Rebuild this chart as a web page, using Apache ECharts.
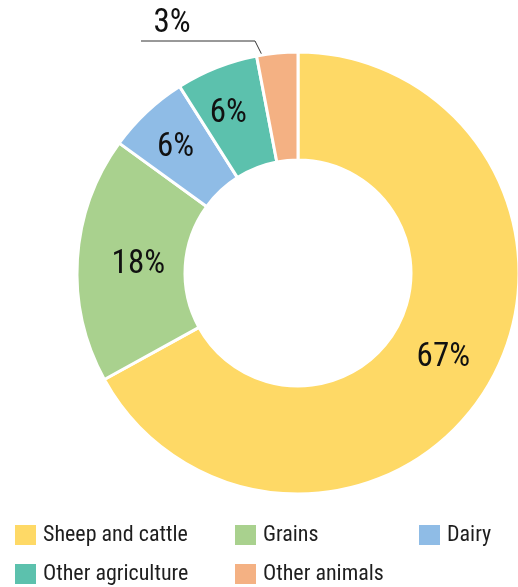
<!DOCTYPE html>
<html>
<head>
<meta charset="utf-8">
<script src="https://cdn.jsdelivr.net/npm/echarts@6/dist/echarts.min.js"></script>
<style>
html,body{margin:0;padding:0;background:#fff;}
#c{width:518px;height:587px;}
</style>
</head>
<body>
<div id="c"></div>
<script>
var categories = ['Sheep and cattle', 'Grains', 'Dairy', 'Other agriculture', 'Other animals'];
var values = [67, 18, 6, 6, 3];
var colors = ['#FED966', '#A9D18E', '#8FBCE6', '#5CC1AD', '#F4B183'];

var FONT = '"Roboto Condensed", "DejaVu Sans Condensed", sans-serif';

// small nudges of the inside labels (style only)
var labelOffsets = {
  'Sheep and cattle': [-1, -2],
  'Grains': [10, 2],
  'Dairy': [-6, -1],
  'Other agriculture': [-7, -1]
};

var chart = echarts.init(document.getElementById('c'), null, {renderer: 'canvas'});

var data = categories.map(function (name, i) {
  var item = {name: name, value: values[i], itemStyle: {color: colors[i]}};
  if (name === 'Other animals') {
    item.label = {position: 'outside', show: true};
    item.labelLine = {show: true, length: 10, length2: 40, lineStyle: {color: '#333', width: 1}};
  } else if (labelOffsets[name]) {
    item.label = {offset: labelOffsets[name]};
  }
  return item;
});

// legend grid: [left, top] per category
var legendPos = {
  'Sheep and cattle': [13, 523],
  'Grains': [233, 523],
  'Dairy': [417, 523],
  'Other agriculture': [13, 562],
  'Other animals': [233, 562]
};
var legends = categories.map(function (name) {
  return {
    orient: 'horizontal',
    left: legendPos[name][0],
    top: legendPos[name][1],
    data: [name],
    itemWidth: 23,
    itemHeight: 22,
    itemGap: 0,
    icon: 'rect',
    selectedMode: false,
    textStyle: {fontFamily: FONT, fontSize: 22, color: '#1e1e1e', padding: [4, 0, 0, 1]},
    padding: 0
  };
});

chart.setOption({
  animation: false,
  legend: legends,
  series: [{
    type: 'pie',
    center: [298, 273],
    radius: [113, 221],
    startAngle: 90,
    clockwise: true,
    avoidLabelOverlap: false,
    itemStyle: {borderColor: '#fff', borderWidth: 3},
    label: {
      show: true,
      position: 'inside',
      formatter: '{c}%',
      fontFamily: FONT,
      fontSize: 33,
      color: '#111'
    },
    labelLine: {show: false},
    labelLayout: function (params) {
      if (params.dataIndex === 4) {
        return {
          x: 172, y: 24, align: 'center', verticalAlign: 'middle',
          labelLinePoints: [[270, 71], [255, 41], [141, 41]]
        };
      }
      return {};
    },
    emphasis: {disabled: true},
    data: data
  }]
});
</script>
</body>
</html>
